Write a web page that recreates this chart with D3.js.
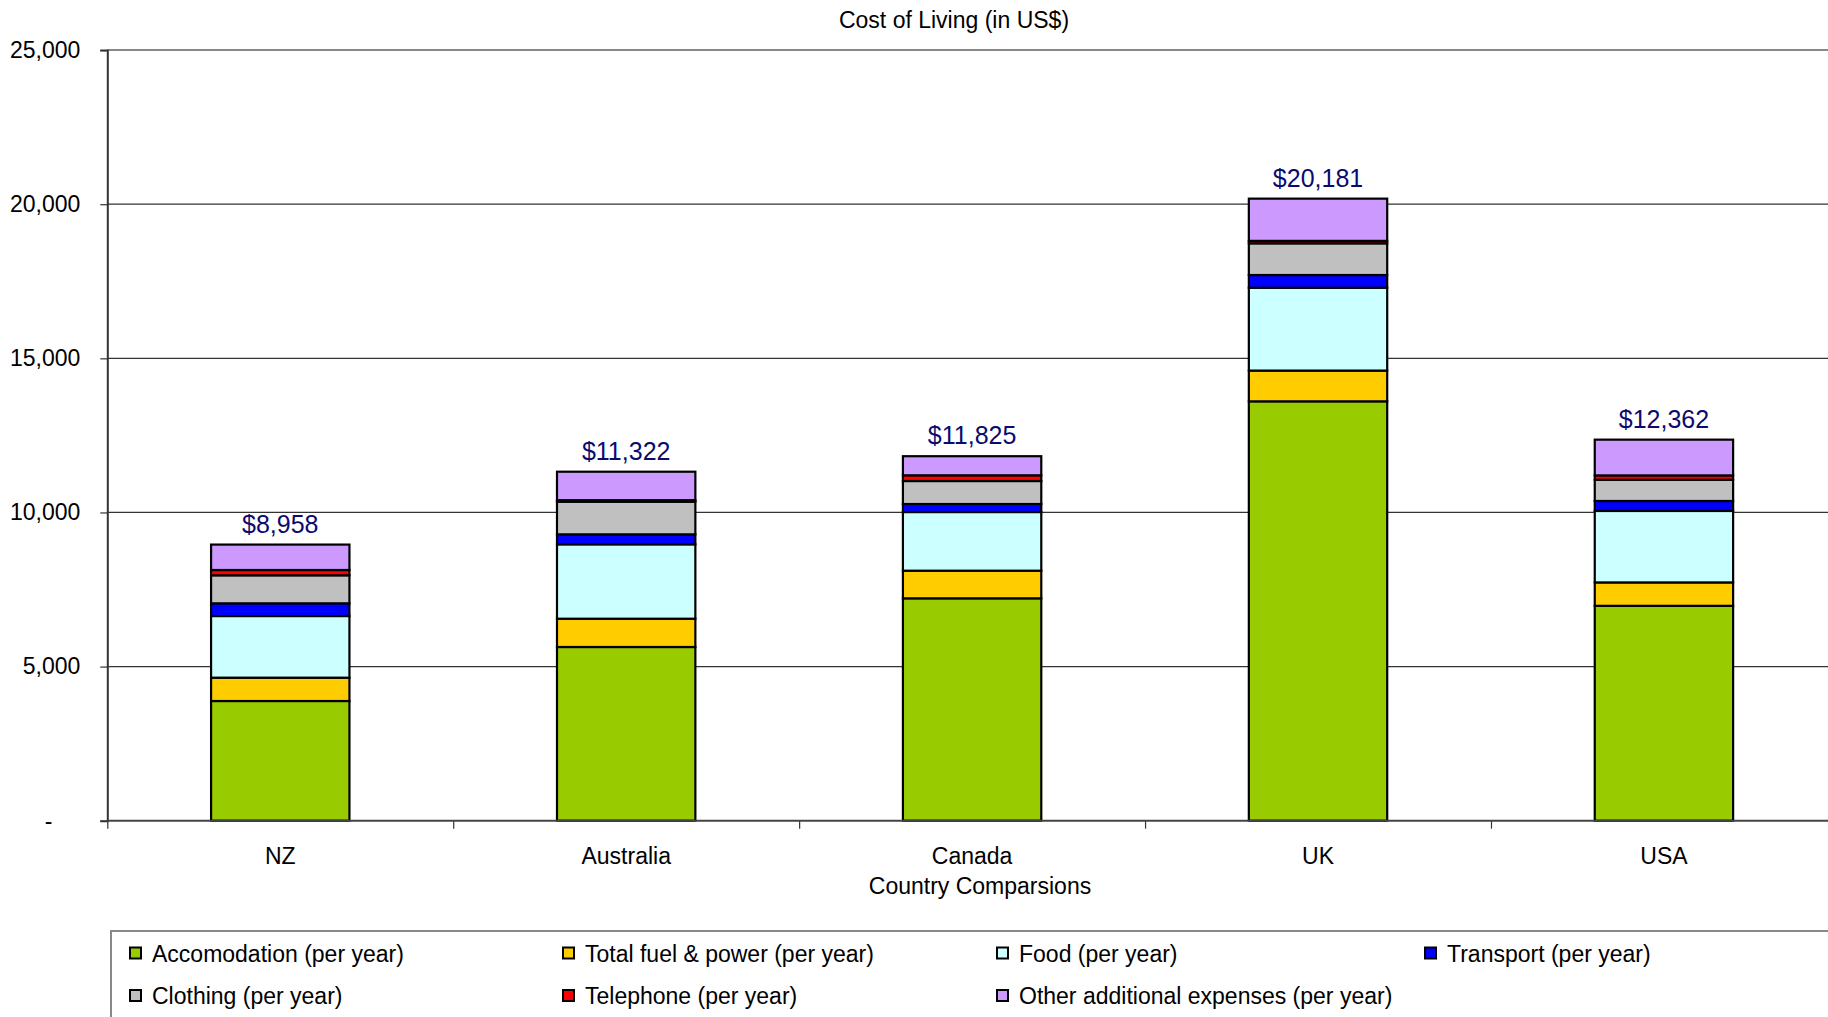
<!DOCTYPE html>
<html>
<head>
<meta charset="utf-8">
<script src="https://cdn.jsdelivr.net/npm/d3@7/dist/d3.min.js"></script>
<style>
  html, body { margin: 0; padding: 0; background: #fff; }
  svg { display: block; font-family: "Liberation Sans", Arial, sans-serif; }
</style>
</head>
<body>
<svg id="chart" width="1828" height="1017"></svg>
<script>
// ---- Data ----
const categories = ["NZ", "Australia", "Canada", "UK", "USA"];
const seriesNames = [
  "Accomodation (per year)",
  "Total fuel & power (per year)",
  "Food (per year)",
  "Transport (per year)",
  "Clothing (per year)",
  "Telephone (per year)",
  "Other additional expenses (per year)"
];
const accommodation = [3883, 5635, 7214, 13605, 6971];
const fuelPower     = [757, 918, 897, 998, 759];
const food          = [2000, 2413, 1903, 2688, 2319];
const transport     = [412, 324, 260, 412, 323];
const clothing      = [909, 1059, 746, 1028, 689];
const telephone     = [172, 50, 185, 80, 141];
const otherExpenses = [825, 923, 620, 1370, 1160];
const totals        = [8958, 11322, 11825, 20181, 12362];
const yTicks = [0, 5000, 10000, 15000, 20000, 25000];
const chartTitle = "Cost of Living (in US$)";
const xTitle = "Country Comparsions";
const colors = ["#99CC00", "#FFCC00", "#CCFFFF", "#0000FF", "#C0C0C0", "#FF0000", "#CC99FF"];

// ---- Build table ----
const seriesValues = [accommodation, fuelPower, food, transport, clothing, telephone, otherExpenses];
const keys = seriesNames;
const table = categories.map((c, i) => {
  const row = { category: c, total: totals[i] };
  keys.forEach((k, j) => row[k] = seriesValues[j][i]);
  return row;
});
const stacked = d3.stack().keys(keys)(table);

// ---- Layout ----
const svg = d3.select("#chart");
const x0 = 107.3, plotW = 1729.6;
const yTop = 50.1, yBase = 820.7;

const x = d3.scaleBand().domain(categories).range([x0, x0 + plotW])
  .paddingInner(0.6).paddingOuter(0.3);
const xi = d3.scaleLinear().domain([0, categories.length]).range([x0, x0 + plotW]);
const y = d3.scaleLinear().domain([0, 25000]).range([yBase, yTop]);

// Title
svg.append("text").attr("x", 954).attr("y", 28).attr("text-anchor", "middle")
  .attr("font-size", 23).attr("fill", "#000").text(chartTitle);

// Gridlines
svg.append("g").selectAll("line").data(yTicks.filter(d => d > 0 && d < 25000)).join("line")
  .attr("x1", x0).attr("x2", 1828).attr("y1", d => y(d)).attr("y2", d => y(d))
  .attr("stroke", "#333").attr("stroke-width", 1.2);
// Plot area top border
svg.append("line").attr("x1", x0).attr("x2", 1828).attr("y1", y(25000)).attr("y2", y(25000))
  .attr("stroke", "#888").attr("stroke-width", 2);

// Bars
const layer = svg.append("g").selectAll("g").data(stacked).join("g")
  .attr("fill", (d, i) => colors[i]);
layer.selectAll("rect").data(d => d).join("rect")
  .attr("x", d => x(d.data.category))
  .attr("width", x.bandwidth())
  .attr("y", d => y(d[1]))
  .attr("height", d => Math.max(0, y(d[0]) - y(d[1])))
  .attr("stroke", "#000").attr("stroke-width", 2.2);

// Y axis
const yAxis = svg.append("g").attr("transform", `translate(${x0},0)`)
  .call(d3.axisLeft(y).tickValues(yTicks)
    .tickFormat(d => d === 0 ? "-" : d3.format(",")(d))
    .tickSize(7).tickPadding(20));
yAxis.select(".domain").attr("stroke", "#333").attr("stroke-width", 2);
yAxis.selectAll(".tick line").attr("stroke", "#333").attr("stroke-width", 1.2);
yAxis.selectAll(".tick text").attr("font-size", 23).attr("fill", "#000")
  .attr("font-family", "Liberation Sans, Arial, sans-serif");
yAxis.selectAll(".tick text").filter(d => d === 0).attr("dx", -28);

// X axis boundary ticks
const xAxisTicks = svg.append("g").attr("transform", `translate(0,${yBase})`)
  .call(d3.axisBottom(xi).tickValues(d3.range(categories.length + 1)).tickFormat("").tickSize(8));
xAxisTicks.select(".domain").remove();
xAxisTicks.selectAll(".tick line").attr("stroke", "#333").attr("stroke-width", 1.2);
svg.append("line").attr("x1", x0).attr("x2", 1828).attr("y1", yBase).attr("y2", yBase)
  .attr("stroke", "#444").attr("stroke-width", 2);

// Category labels
const xAxis = svg.append("g").attr("transform", `translate(0,${yBase})`)
  .call(d3.axisBottom(x).tickSize(0).tickPadding(0));
xAxis.select(".domain").remove();
xAxis.selectAll(".tick text").attr("font-size", 23).attr("fill", "#000")
  .attr("dy", null).attr("y", 43.5)
  .attr("font-family", "Liberation Sans, Arial, sans-serif");

// X title
svg.append("text").attr("x", 980).attr("y", 893.5).attr("text-anchor", "middle")
  .attr("font-size", 23).attr("fill", "#000").text(xTitle);

// Total labels
const topLayer = stacked[stacked.length - 1];
svg.append("g").selectAll("text").data(topLayer).join("text")
  .attr("x", d => x(d.data.category) + x.bandwidth() / 2)
  .attr("y", d => y(d[1]) - 12)
  .attr("text-anchor", "middle").attr("font-size", 25).attr("fill", "#0B0B6E")
  .text(d => "$" + d3.format(",")(d.data.total));

// Legend
svg.append("rect").attr("x", 111).attr("y", 931).attr("width", 1800).attr("height", 200)
  .attr("fill", "none").attr("stroke", "#888").attr("stroke-width", 2);
const legendCols = [130, 563, 997, 1425];
const legendRows = [961.5, 1004];
const leg = svg.append("g").selectAll("g").data(keys).join("g")
  .attr("transform", (d, i) => `translate(${legendCols[i % 4]},${legendRows[Math.floor(i / 4)]})`);
leg.append("rect").attr("x", 0).attr("y", -14).attr("width", 11).attr("height", 11)
  .attr("fill", (d, i) => colors[i]).attr("stroke", "#000").attr("stroke-width", 2);
leg.append("text").attr("x", 22).attr("y", 0).attr("font-size", 23).attr("fill", "#000")
  .text(d => d);
</script>
</body>
</html>
